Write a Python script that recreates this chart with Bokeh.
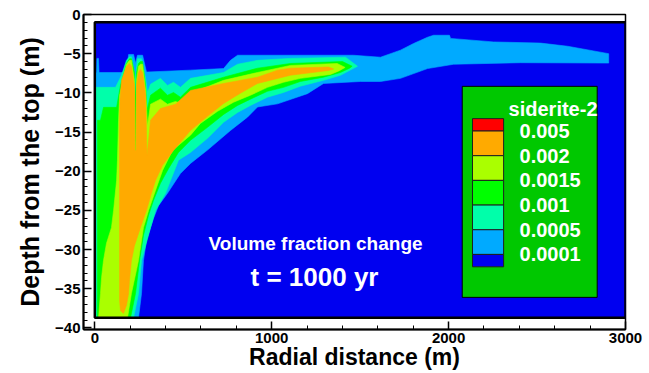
from bokeh.plotting import figure
from bokeh.models import Range1d, SingleIntervalTicker, Label
from bokeh.embed import file_html
from bokeh.resources import INLINE

# ---------------- data (radial distance in m, depth in m) ----------------
domain_x = [0, 3000]
domain_y = [-38.7, -1.0]

# region >= 0.0001
lb_x = [0, 0, 10, 12, 21, 24, 179, 191, 219, 230, 241, 270, 292, 541, 728, 767, 807, 1462, 1615, 1728,
        1802, 1881, 1915, 2005, 2011, 2254, 2520, 2673, 2905, 2905, 2407, 2028, 1881, 1728, 1615, 1502,
        1293, 1202, 1033, 920, 863, 767, 637, 541, 484, 411, 360, 332, 292, 275, 264, 247]
lb_y = [-38.7, -7.4, -7.4, -5.6, -5.6, -7.4, -7.4, -5.1, -5.1, -6.2, -5.2, -5.2, -7.35, -7.1, -6.9, -5.85,
        -5.2, -5.2, -5.45, -4.55, -3.7, -2.9, -2.65, -2.65, -3.05, -3.5, -3.65, -4.05, -5.0, -6.2, -6.15,
        -6.35, -6.9, -8.15, -8.55, -8.55, -8.8, -10.1, -11.4, -11.8, -13.1, -14.8, -17.3, -19.0, -20.3,
        -22.8, -24.4, -26.0, -28.8, -31.4, -35.6, -38.7]

# region >= 0.0005
aq_x = [7, 7, 117, 151, 179, 196, 207, 230, 241, 264, 287, 298, 315, 371, 411, 445, 484, 541, 728, 807,
        920, 1106, 1417, 1485, 1389, 1293, 1162, 1067, 976, 880, 807, 728, 637, 541, 473, 400, 343, 315,
        264, 247, 219]
aq_y = [-38.7, -9.3, -9.3, -7.75, -5.85, -5.4, -5.4, -8.15, -5.65, -5.65, -8.15, -9.95, -8.9, -8.15,
        -9.05, -8.65, -9.3, -8.15, -7.4, -6.35, -5.85, -5.6, -5.45, -6.6, -7.75, -8.4, -9.15, -9.95,
        -10.55, -11.6, -12.5, -13.75, -15.8, -17.6, -18.6, -22.8, -25.0, -27.2, -31.4, -35.6, -38.7]

# region >= 0.001
gr_x = [15, 15, 32, 49, 123, 145, 179, 196, 207, 224, 230, 236, 247, 258, 270, 287, 295, 315, 371, 411,
        445, 484, 541, 728, 920, 1106, 1400, 1455, 1440, 1389, 1293, 1162, 1067, 976, 880, 807, 728, 637,
        541, 473, 417, 371, 332, 304, 275, 253, 230, 202]
gr_y = [-38.7, -13.5, -13.5, -11.85, -11.85, -9.05, -6.25, -5.65, -5.65, -7.4, -10.95, -7.4, -6.25, -6.0,
        -6.0, -9.05, -12.25, -10.3, -9.4, -10.3, -9.95, -10.55, -9.3, -8.0, -6.85, -6.25, -6.0, -6.6,
        -6.85, -7.4, -8.0, -8.55, -9.3, -9.8, -10.8, -11.6, -12.75, -14.4, -16.05, -17.6, -19.65, -21.55,
        -23.7, -25.6, -28.2, -31.4, -35.6, -38.7]

# region >= 0.0015
yg_x = [21, 32, 38, 49, 66, 94, 106, 123, 128, 134, 140, 179, 196, 207, 224, 228, 232, 236, 247, 258,
        270, 287, 298, 315, 371, 411, 456, 501, 541, 728, 920, 1106, 1370, 1415, 1380, 1332, 1162, 1067,
        976, 880, 784, 694, 597, 541, 439, 383, 343, 304, 275, 247, 207, 185]
yg_y = [-38.7, -35.6, -33.6, -31.4, -29.2, -27.2, -25.0, -21.2, -18.6, -13.5, -10.3, -6.35, -5.85, -5.85,
        -8.4, -17.35, -17.35, -8.4, -6.6, -6.35, -6.35, -9.7, -14.15, -11.45, -10.8, -11.45, -11.1,
        -11.45, -10.05, -8.4, -7.4, -6.5, -6.25, -6.75, -7.2, -7.65, -8.15, -8.65, -9.3, -10.3, -11.2,
        -12.35, -13.9, -15.4, -17.35, -19.9, -22.45, -25.0, -27.2, -31.4, -35.6, -38.7]

# region >= 0.002
or_x = [140, 140, 140, 142, 151, 179, 196, 207, 224, 227, 233, 236, 247, 258, 270, 287, 295, 304, 315,
        371, 456, 541, 728, 920, 1033, 1106, 1320, 1350, 1320, 1106, 920, 823, 728, 637, 541, 445, 383,
        343, 320, 292, 258, 224, 207, 196, 191, 179, 162, 145]
or_y = [-36.5, -23.7, -14.8, -10.95, -8.4, -6.6, -6.25, -6.6, -9.05, -17.35, -17.35, -9.05, -7.4, -7.0,
        -7.4, -10.3, -17.95, -16.05, -13.5, -12.0, -11.45, -9.7, -8.8, -8.0, -7.1, -6.85, -6.7, -6.95,
        -7.15, -7.75, -8.8, -10.05, -11.35, -13.0, -14.8, -17.35, -19.25, -21.2, -22.85, -25.0, -27.2,
        -29.5, -31.4, -33.9, -35.6, -37.1, -38.15, -37.8]

legend_title = "siderite-2"
legend_labels = ["0.005", "0.002", "0.0015", "0.001", "0.0005", "0.0001"]
y_ticks_interval = 5
x_ticks_interval = 1000

# ---------------- styles ----------------
BLUE = "#0000f0"
LEVEL_COLORS = ["#00aaff", "#00ffaa", "#00ff00", "#aaff00", "#ffaa00"]
LEGEND_COLORS = ["#ff0000", "#ffaa00", "#aaff00", "#00ff00", "#00ffaa", "#00aaff", BLUE]
FONT = "Liberation Sans"

p = figure(width=649, height=373, output_backend="svg", toolbar_location=None,
           x_range=Range1d(-64, 3000), y_range=Range1d(-40.2, 0),
           min_border_left=83, min_border_right=24, min_border_top=14, min_border_bottom=44)
p.background_fill_color = "white"
p.border_fill_color = "white"
p.grid.visible = False
p.outline_line_color = "black"
p.outline_line_width = 1.5

# domain background
p.quad(left=[domain_x[0]], right=[domain_x[1]], bottom=[domain_y[0]], top=[domain_y[1]],
       fill_color=BLUE, line_color=None)

for xs, ys, c in zip([lb_x, aq_x, gr_x, yg_x, or_x], [lb_y, aq_y, gr_y, yg_y, or_y], LEVEL_COLORS):
    p.patch(xs, ys, fill_color=c, line_color=c, line_width=0.6)

# domain frame
p.quad(left=[domain_x[0]], right=[domain_x[1]], bottom=[domain_y[0]], top=[domain_y[1]],
       fill_color=None, line_color="black", line_width=2.5)

# axes
xax = p.xaxis[0]
xax.ticker = SingleIntervalTicker(interval=x_ticks_interval, num_minor_ticks=5)
yax = p.yaxis[0]
yax.ticker = SingleIntervalTicker(interval=y_ticks_interval, num_minor_ticks=5)
for ax in (xax, yax):
    ax.axis_line_color = "black"
    ax.axis_line_width = 2
    ax.major_tick_in = 8
    ax.major_tick_out = 0
    ax.minor_tick_in = 4
    ax.minor_tick_out = 0
    ax.major_tick_line_width = 1.5
    ax.minor_tick_line_width = 1
    ax.major_tick_line_color = "black"
    ax.minor_tick_line_color = "black"
    ax.major_label_text_font = FONT
    ax.major_label_text_font_style = "bold"
    ax.major_label_text_font_size = "15px"
    ax.major_label_text_color = "black"
    ax.major_label_standoff = 3
    ax.axis_label_text_font = FONT
    ax.axis_label_text_font_style = "bold"
    ax.axis_label_text_color = "black"

yax.axis_label = "Depth from the top (m)"
yax.axis_label_text_font_size = "25px"
yax.axis_label_standoff = 8

xax.axis_label = "Radial distance (m)"
xax.axis_label_text_font_size = "23px"
xax.axis_label_standoff = -2

# annotations inside the plot
p.add_layout(Label(x=1248, y=-29.2, text="Volume fraction change", text_align="center",
                   text_baseline="middle", text_font=FONT, text_font_style="bold",
                   text_font_size="19px", text_color="white"))
p.add_layout(Label(x=1242, y=-33.55, text="t = 1000 yr", text_align="center",
                   text_baseline="middle", text_font=FONT, text_font_style="bold",
                   text_font_size="26px", text_color="white"))

# legend box
LEG = dict(left=2077, right=2840, bottom=-36.1, top=-9.17)
p.quad(left=[LEG["left"]], right=[LEG["right"]], bottom=[LEG["bottom"]], top=[LEG["top"]],
       fill_color="#00c800", line_color="black", line_width=1)
cell_l, cell_r = 2135, 2311
first_b, step = -14.87, 3.15
bounds = [-13.29] + [first_b - i * step for i in range(len(legend_labels))] + [-32.2]
p.quad(left=[cell_l] * len(LEGEND_COLORS), right=[cell_r] * len(LEGEND_COLORS),
       top=bounds[:-1], bottom=bounds[1:], fill_color=LEGEND_COLORS, line_color="#202020",
       line_width=1)
p.add_layout(Label(x=2339, y=-12.1, text=legend_title, text_align="left", text_baseline="middle",
                   text_font=FONT, text_font_style="bold", text_font_size="20px",
                   text_color="white"))
for i, lab in enumerate(legend_labels):
    p.add_layout(Label(x=2401, y=bounds[i + 1], text=lab, text_align="left",
                       text_baseline="middle", text_font=FONT, text_font_style="bold",
                       text_font_size="20px", text_color="white"))

open("out.html", "w").write(file_html(p, INLINE))
